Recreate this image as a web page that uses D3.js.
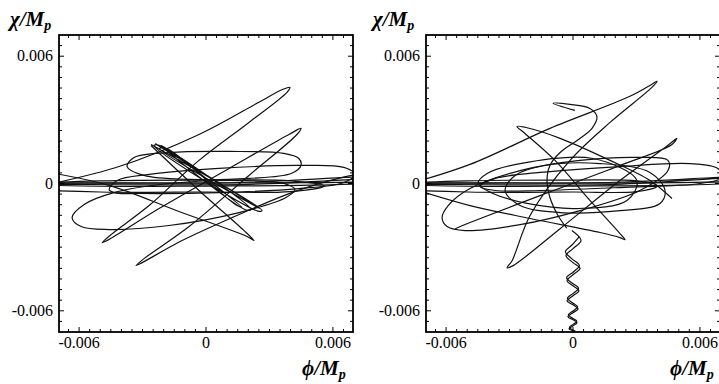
<!DOCTYPE html>
<html><head><meta charset="utf-8">
<script src="https://cdn.jsdelivr.net/npm/d3@7"></script>
<style>body{margin:0;background:#fff}svg{display:block}</style>
</head><body>
<svg id="c" width="719" height="384"></svg>
<script>
// All field values in units of 1e-3 M_p
const tickValues = [-6, 0, 6];
const tickLabels = ["-0.006", "0", "0.006"];
const xTitle = ["\u03D5/M", "p"];
const yTitle = ["\u03C7/M", "p"];

// ---------- left panel trajectory pieces ----------
const leftTrajA = [[-7.89,-0.14],[-4.11,0.80],[-0.33,2.31],[2.50,3.83],[3.64,4.44],[3.97,4.53],[3.83,4.30],[2.03,2.88],[-0.33,1.09],[-2.69,-1.04],[-4.49,-2.41],[-4.91,-2.79],[-4.68,-2.69],[-2.22,-1.18],[1.09,0.71],[3.92,2.31],[4.49,2.60],[4.30,2.31],[2.03,0.38],[-0.80,-2.03],[-2.93,-3.54],[-3.31,-3.87],[-3.02,-3.73],[-1.13,-2.69],[1.23,-1.61],[4.06,-0.43],[6.5,0.3],[8.2,0.6]];
const leftTrajB = [[-7.42,0.52],[-4.58,-0.09],[-1.28,-1.32],[1.94,-2.50],[2.27,-2.69],[1.80,-2.22],[-0.33,-0.33],[-2.60,1.79]];
const leftBand = [[-2.60,1.84],[2.65,-1.28],[2.45,-1.30],[-2.46,1.79],[-2.30,1.82],[2.13,-1.23],[1.90,-1.25],[-2.13,1.79],[-1.95,1.70],[1.70,-1.13],[1.32,-0.94],[-1.80,1.62],[-2.20,1.65],[2.30,-1.05],[2.55,-1.18],[-2.40,1.88]];
const leftLoop1 = [[-6.33,-1.61],[-5.90,-2.03],[-4.58,-2.17],[-1.75,-1.98],[1.56,-1.37],[3.78,-0.66],[4.20,-0.28],[3.68,0.00],[1.56,0.14],[-1.75,0.00],[-4.35,-0.43],[-5.76,-0.99]];
const leftLoop2 = [[-3.73,0.80],[-3.40,1.23],[-1.75,1.46],[1.09,1.51],[3.68,1.42],[4.39,1.18],[4.49,0.85],[4.02,0.47],[2.03,0.24],[-0.80,0.19],[-2.93,0.38]];
const leftLoop3 = [[-4.58,-0.28],[-4.20,0.14],[-2.69,0.43],[0.61,0.71],[4.39,0.85],[6.52,0.76],[7.04,0.43],[6.52,0.05],[4.39,-0.24],[0.61,-0.43],[-3.16,-0.47],[-4.35,-0.43]];
const leftFlat1 = [[-11,0.03],[-5,0.03],[0,0.02],[5,0.04],[11,0.12],[5,-0.08],[0,-0.12],[-5,-0.13]];
const leftFlat2 = [[-11,-0.15],[-5,0.12],[0,0.16],[4,0.12],[5.6,-0.12],[4,-0.38],[0,-0.40],[-5,-0.40]];
const leftFlat3 = [[-11,0.0],[-4,-0.06],[2,-0.04],[7,0.2],[11,0.45],[7,0.3],[2,0.06],[-4,0.02]];

// ---------- right panel trajectory pieces ----------
const rightTrajA = [[-8.17,-0.14],[-4.87,0.90],[-1.09,2.60],[2.69,4.11],[3.73,4.68],[3.97,4.82],[3.73,4.53],[1.75,2.88],[-0.14,1.09],[-2.03,-1.51],[-2.88,-3.64],[-3.12,-3.97],[-2.83,-3.87],[-0.61,-2.13],[2.22,0.14],[4.49,1.80],[4.91,2.13],[4.68,1.84],[2.22,0.85],[-1.56,-0.57],[-4.87,-1.84],[-5.57,-2.13]];
const rightTrajB = [[-6.99,-0.43],[-4.87,-1.04],[-2.03,-1.65],[1.28,-2.31],[2.22,-2.55],[2.46,-2.65],[2.22,-2.36],[0.80,-0.80],[-0.85,1.09],[-2.27,2.36],[-2.65,2.69],[-2.27,2.65],[-0.61,2.13],[1.75,1.09],[3.64,0.14],[4.68,-0.71]];
const rightDescent = [[0.09,3.45],[-0.94,3.78],[-0.14,3.73],[0.80,3.54],[1.13,3.16],[0.90,2.60],[0.19,2.03],[-0.61,1.46],[-1.09,0.85],[-1.23,0.14],[-1.09,-0.66],[-0.71,-1.51],[-0.30,-2.10]];
const rightHelix = [[-0.05,-2.22],[0.38,-2.69],[0.00,-3.07],[-0.33,-3.40],[0.00,-3.73],[0.33,-4.01],[0.00,-4.30],[-0.28,-4.58],[0.00,-4.82],[0.28,-5.05],[0.00,-5.29],[-0.28,-5.53],[0.00,-5.72],[0.24,-5.91],[0.00,-6.09],[-0.24,-6.28],[0.00,-6.42],[0.19,-6.56],[0.00,-6.71],[-0.19,-6.85],[0.00,-6.94],[0.14,-7.04],[0.00,-7.13],[-0.10,-7.25],[0.00,-7.40]];
const rightHelix2 = [[0.30,-2.50],[-0.05,-2.90],[-0.36,-3.22],[-0.05,-3.55],[0.30,-3.86],[0.03,-4.16],[-0.30,-4.44],[-0.03,-4.70],[0.26,-4.93],[0.03,-5.17],[-0.26,-5.41],[-0.03,-5.62],[0.22,-5.81],[0.02,-6.00],[-0.22,-6.19],[-0.02,-6.35],[0.18,-6.49],[0.02,-6.63],[-0.17,-6.78],[-0.02,-6.90],[0.12,-6.99],[0.02,-7.09],[-0.12,-7.19]];
const rightLoop1 = [[-6.19,-1.61],[-5.95,-2.03],[-5.10,-2.22],[-2.50,-1.94],[0.33,-1.28],[3.16,-0.33],[4.49,0.61],[4.49,1.09],[3.16,1.23],[0.33,1.09],[-2.50,0.61],[-4.87,-0.24],[-5.90,-1.04]];
const rightLoop2 = [[-4.49,0.00],[-4.06,0.47],[-2.50,0.94],[0.94,1.18],[3.02,0.14],[2.55,-0.80],[0.19,-1.18],[-2.17,-0.94],[-3.78,-0.47]];
const rightLoop3 = [[-3.21,-0.33],[-2.74,0.38],[-1.32,0.85],[1.28,0.94],[3.64,0.52],[4.35,-0.33],[4.11,-0.94],[2.22,-1.28],[-0.61,-1.37],[-2.50,-1.04]];
const rightLoop4 = [[-4.39,-0.14],[-3.68,0.24],[-1.56,0.52],[2.22,0.80],[5.53,0.94],[6.85,0.71],[7.04,0.28],[6.00,0.00],[2.22,-0.19],[-1.56,-0.33],[-3.68,-0.33]];
const rightFlat1 = [[-11,0.03],[-5,0.03],[0,0.02],[5,0.04],[11,0.15],[5,-0.08],[0,-0.12],[-5,-0.13]];
const rightFlat2 = [[-11,-0.15],[-5,0.12],[0,0.16],[3,0.12],[4.0,-0.12],[3,-0.38],[0,-0.40],[-5,-0.40]];
const rightFlat3 = [[-11,0.0],[-4,-0.06],[2,-0.04],[7,0.25],[11,0.5],[7,0.3],[2,0.06],[-4,0.02]];

const panels = [
  { id:"L", x0:59, x1:353, labX:10, titleX:302,
    open:[leftTrajA, leftTrajB, leftBand],
    closed:[leftLoop1, leftLoop2, leftLoop3, leftFlat1, leftFlat2, leftFlat3] },
  { id:"R", x0:426, x1:720, labX:373, titleX:670,
    open:[rightTrajA, rightTrajB, rightDescent, rightHelix, rightHelix2],
    closed:[rightLoop1, rightLoop2, rightLoop3, rightLoop4, rightFlat1, rightFlat2, rightFlat3] }
];

const FONT = "'Liberation Serif', serif";
const svg = d3.select("#c");
const Y0 = 35, Y1 = 332;

panels.forEach(p => {
  const x = d3.scaleLinear().domain([-6.95, 6.95]).range([p.x0, p.x1]);
  const y = d3.scaleLinear().domain([-7, 7]).range([Y1, Y0]);
  const g = svg.append("g");
  g.append("clipPath").attr("id","clip"+p.id).append("rect")
    .attr("x",p.x0).attr("y",Y0).attr("width",p.x1-p.x0).attr("height",Y1-Y0);
  const plot = g.append("g").attr("clip-path","url(#clip"+p.id+")");
  const lineOpen = d3.line().x(d=>x(d[0])).y(d=>y(d[1])).curve(d3.curveCatmullRom.alpha(0.5));
  const lineClosed = d3.line().x(d=>x(d[0])).y(d=>y(d[1])).curve(d3.curveCatmullRomClosed.alpha(0.5));
  p.closed.forEach(arr => plot.append("path").attr("d", lineClosed(arr))
    .attr("fill","none").attr("stroke","#111").attr("stroke-width",1.2));
  p.open.forEach(arr => plot.append("path").attr("d", lineOpen(arr))
    .attr("fill","none").attr("stroke","#111").attr("stroke-width",1.2));

  // frame
  g.append("rect").attr("x",p.x0).attr("y",Y0).attr("width",p.x1-p.x0).attr("height",Y1-Y0)
    .attr("fill","none").attr("stroke","#000").attr("stroke-width",1.8);
  // ticks (inward)
  const minor = d3.range(-6.5, 6.51, 0.5);
  const tk = g.append("g").attr("stroke","#000").attr("stroke-width",1);
  minor.forEach(v => {
    const major = tickValues.includes(v);
    const L = major ? 5 : 3;
    tk.append("line").attr("x1",x(v)).attr("x2",x(v)).attr("y1",Y1).attr("y2",Y1-L);
    tk.append("line").attr("x1",x(v)).attr("x2",x(v)).attr("y1",Y0).attr("y2",Y0+L);
    tk.append("line").attr("y1",y(v)).attr("y2",y(v)).attr("x1",p.x0).attr("x2",p.x0+L);
    tk.append("line").attr("y1",y(v)).attr("y2",y(v)).attr("x1",p.x1).attr("x2",p.x1-L);
  });
  // tick labels
  tickValues.forEach((v,i) => {
    g.append("text").attr("x",x(v)).attr("y",Y1+16).attr("text-anchor","middle")
      .style("font-family",FONT).attr("font-size",16).text(tickLabels[i]);
    g.append("text").attr("x",p.x0-6).attr("y",y(v)+5).attr("text-anchor","end")
      .style("font-family",FONT).attr("font-size",16).text(tickLabels[i]);
  });
  // axis titles
  const yt = g.append("text").attr("x",p.labX).attr("y",26).style("font-family",FONT)
    .attr("font-style","italic").attr("font-weight","bold").attr("font-size",21);
  yt.append("tspan").text(yTitle[0]);
  yt.append("tspan").attr("font-size",14).attr("dy",4).text(yTitle[1]);
  const xt = g.append("text").attr("x",p.titleX).attr("y",375).style("font-family",FONT)
    .attr("font-style","italic").attr("font-weight","bold").attr("font-size",21);
  xt.append("tspan").text(xTitle[0]);
  xt.append("tspan").attr("font-size",14).attr("dy",4).text(xTitle[1]);
});
</script>
</body></html>
